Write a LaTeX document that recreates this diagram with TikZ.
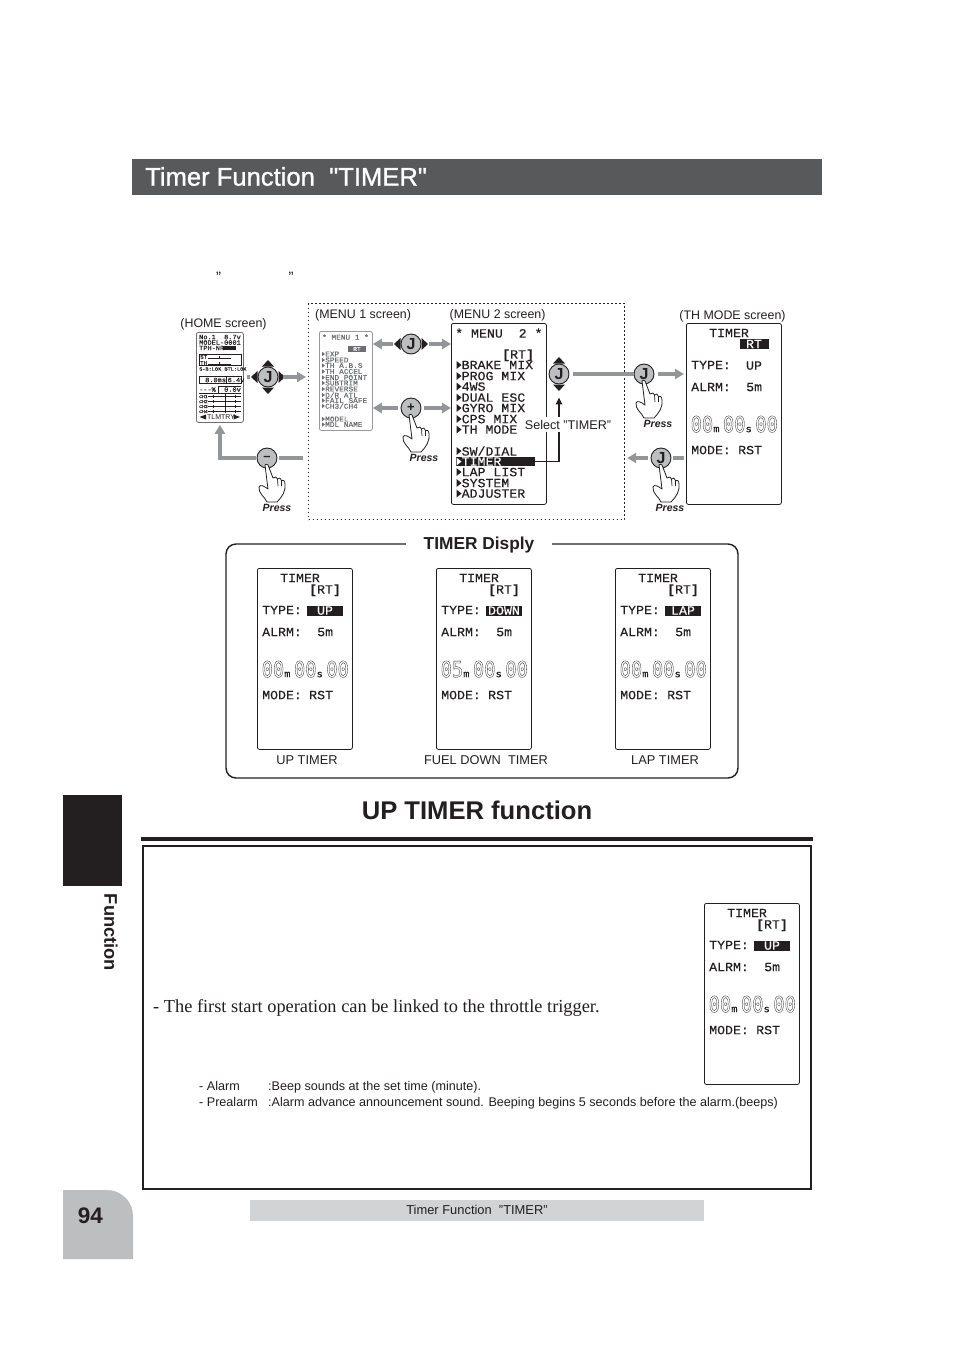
\documentclass[tikz,border=0pt]{standalone}
\usepackage{fontspec}
\usetikzlibrary{arrows.meta}
\setmainfont{Liberation Sans}
\newfontfamily\lcdfont[FakeBold=0.25,FakeStretch=1.05]{Liberation Mono}
\newfontfamily\lcdwide[FakeStretch=0.85]{DejaVu Sans Mono}
\newfontfamily\bodyserif{Liberation Serif}
\newfontfamily\titlefont[FakeBold=1]{Liberation Sans}
\definecolor{inkblack}{HTML}{231F20}
\definecolor{barblack}{HTML}{58595B}
\definecolor{arrowgrey}{HTML}{939598}
\definecolor{buttongrey}{HTML}{BCBEC0}
\definecolor{footgrey}{HTML}{D1D3D4}
\definecolor{lcdgrey}{HTML}{6D6E71}
\newcommand\fpx[1]{\fontsize{#1}{#1}\selectfont}
% outlined LCD digits
\newcommand\lcdout[1]{\special{pdf:code 1 Tr 0.3 w}#1\special{pdf:code 0 Tr}}
\newcommand\rtbrackets{\textbf{[}RT\textbf{]}}
\tikzset{
  screenbox/.style={draw=inkblack, line width=0.8pt, rounded corners=2pt, anchor=north west, inner sep=0pt, fill=white},
  lcdtext/.style={anchor=west, inner sep=0pt, text=inkblack, text depth=0pt, font=\lcdfont\fpx{12.6}},
  lcdtiny/.style={anchor=west, inner sep=0pt, text=lcdgrey, text depth=0pt, font=\lcdfont\fpx{7.4}},
  hometiny/.style={anchor=west, inner sep=0pt, text=inkblack, text depth=0pt, font=\lcdfont\fpx{6.6}},
  rtplain/.style={lcdtext, anchor=center},
  rtinv/.style={lcdtext, anchor=center, fill=inkblack, text=white, minimum width=29pt, minimum height=10pt},
  typeplain/.style={lcdtext, anchor=center},
  typeinv/.style={lcdtext, anchor=center, fill=inkblack, text=white, minimum width=36pt, minimum height=10pt},
  label/.style={inner sep=0pt, text=inkblack, font=\fpx{12.4}},
  press/.style={inner sep=0pt, text=inkblack, font=\bfseries\itshape\fpx{10.5}},
  button/.style={circle, draw=inkblack, line width=0.9pt, fill=buttongrey, minimum size=20pt, inner sep=0pt, text=inkblack, font=\bfseries\fpx{16}},
  greyarrow/.style={draw=arrowgrey, line width=3.3pt, -{Triangle[length=9pt,width=10pt]}},
  greyline/.style={draw=arrowgrey, line width=3.3pt},
  blackarrow/.style={draw=inkblack, line width=1.5pt, -{Triangle[length=7pt,width=6.5pt]}},
  jtri/.pic={\fill[inkblack] (10.5,-6) -- (17,0) -- (10.5,6) -- cycle;},
  hand/.pic={
    \draw[inkblack, fill=white, line width=0.8pt, line join=round]
      (-2,7) .. controls (-1,6) and (0.5,6) .. (1,7) -- (6,20)
      .. controls (8,18) and (10,19) .. (10.5,21)
      .. controls (12,19) and (14,20) .. (14.5,22.5)
      .. controls (16,21) and (18,23) .. (18,26)
      .. controls (19,33) and (15,39) .. (10,44) -- (0,44)
      .. controls (-2,39) and (-9,35) .. (-8,29)
      .. controls (-7,26) and (-3,28) .. (1,31) -- cycle;
    \draw[inkblack, line width=0.7pt] (10.5,21) -- (11,28) (14.5,22.5) -- (14.5,28);
  }
}
% one TIMER screen: name, x, y, RT style, RT text, type style, type text, first digits
\newcommand\timerscreen[8]{
  \begin{scope}[shift={(#2,#3)}]
    \node[screenbox, minimum width=95pt, minimum height=181pt] (#1) at (0,0) {};
    \node[lcdtext] (#1title) at (23,10) {TIMER};
    \node[#4] (#1rt) at (68,21) {#5};
    \node[lcdtext] (#1type) at (5,42) {TYPE:};
    \node[#6] (#1val) at (68,42.5) {#7};
    \node[lcdtext] (#1alrm) at (5,64) {ALRM:};
    \node[lcdtext] (#1five) at (60,64) {5m};
    \node[lcdtext, font=\lcdwide\fpx{22}] (#1time) at (4.5,101)
      {\lcdout{#8}{\lcdfont\fpx{10}m}\kern3.5pt\lcdout{00}{\lcdfont\fpx{10}s}\kern3.5pt\lcdout{00}};
    \node[lcdtext] (#1mode) at (5,127) {MODE:};
    \node[lcdtext] (#1rst) at (52,127) {RST};
  \end{scope}
}
\begin{document}
\begin{tikzpicture}[x=1pt, y=-1pt]
\useasboundingbox (0,0) rectangle (954,1350);
\fill[white] (0,0) rectangle (954,1350);
% title bar
\node[fill=barblack, minimum width=690pt, minimum height=36pt, anchor=north west, inner sep=0pt] (titlebar) at (132,159) {};
\node[anchor=west, inner sep=0pt, text=white, font=\titlefont\fpx{25.6}] (titletext) at (145,176.5) {Timer Function\ \ "TIMER"};
\node[inner sep=0pt, text=inkblack, font=\fpx{15}] (quoteleft) at (218.5,277) {"};
\node[inner sep=0pt, text=inkblack, font=\fpx{15}] (quoteright) at (291,277) {"};
% menu group
\node[draw=inkblack, line width=1.2pt, dash pattern=on 1.2pt off 2.8pt, minimum width=316pt, minimum height=216pt, anchor=north west, inner sep=0pt] (menubox) at (308,303) {};
\node[label] (homelabel) at (223.5,324) {(HOME screen)};
\node[label, anchor=west] (menuonelabel) at (315,315) {(MENU 1 screen)};
\node[label, anchor=west] (menutwolabel) at (449.5,315) {(MENU 2 screen)};
\node[label] (thlabel) at (732.5,316) {(TH MODE screen)};
% home screen
\node[screenbox, draw=lcdgrey, minimum width=47pt, minimum height=90pt] (homescr) at (196,332) {};
\node[hometiny] (homeno) at (199,337) {No.1\ \ 8.7v};
\node[hometiny] (homemodel) at (199,342.5) {MODEL-0001};
\node[hometiny] (hometph) at (199,348) {TPH-NR};
\node[fill=inkblack, minimum width=13pt, minimum height=4.5pt, inner sep=0pt] (homert) at (229,348) {};
\draw[inkblack, line width=0.5pt] (199,354) rectangle (241,365.5);
\node[hometiny, font=\lcdfont\fpx{5.5}] (homest) at (200,357) {ST};
\node[hometiny, font=\lcdfont\fpx{5.5}] (hometh) at (200,363) {TH};
\node[hometiny, font=\lcdfont\fpx{5}] (homesb) at (199,369) {S-B:LOK BTL:LOK};
\foreach \ypos in {358.5,364.5} {
  \draw[inkblack, line width=0.5pt] (208,\ypos) -- (231,\ypos);
  \draw[inkblack, line width=0.7pt] (219.5,\ypos-2.5) -- (219.5,\ypos);
}
\draw[inkblack, line width=0.6pt] (199,376.5) rectangle (241,383.5) (226,376.5) -- (226,383.5);
\draw[inkblack, line width=0.6pt] (199,393) -- (241,393) (218,386) -- (241,386) (218,386) -- (218,393);
\node[hometiny] (hometime) at (205,380) {8.0ms};
\node[hometiny] (homevolt) at (227.5,380) {6.4v};
\node[hometiny] (homepct) at (199,389.5) {---\%};
\node[hometiny] (homevolttwo) at (224,389.5) {0.0v};
\foreach \ypos/\chname in {396.5/CH1,401.5/CH2,406.5/CH3,411.5/CH4} {
  \node[hometiny, font=\lcdfont\fpx{4.5}] (home\chname) at (199,\ypos) {\chname};
  \draw[inkblack, line width=0.5pt] (208,\ypos) -- (241,\ypos) (213,\ypos-1.5) -- (213,\ypos+1.5) (235,\ypos-1.5) -- (235,\ypos+1.5);
}
\draw[inkblack, line width=0.9pt] (225,393) -- (225,413);
\node[hometiny, font=\fpx{7}] (hometlm) at (207,417) {TLMTRY};
\fill[inkblack] (199.5,417) -- (206,414.5) -- (206,419.5) -- cycle (240,417) -- (233.5,414.5) -- (233.5,419.5) -- cycle;
% menu 1 screen
\node[screenbox, draw=lcdgrey!70, minimum width=53pt, minimum height=99pt] (menuone) at (319,331) {};
\node[lcdtiny] (menuonetitle) at (322,337) {* MENU 1 *};
\node[fill=lcdgrey, text=white, minimum width=18pt, minimum height=5.5pt, inner sep=0pt, font=\lcdfont\fpx{6}] (menuonert) at (357,349) {RT};
\foreach \ypos/\entry in {354/EXP,360/SPEED,365.5/TH A.B.S,371.5/TH ACCEL,377.5/END POINT,383/SUBTRIM,389/REVERSE,395/D\slash R ATL,400.5/FAIL SAFE,406/CH3\slash CH4,419/MODEL,424.5/MDL NAME} {
  \fill[lcdgrey] (322,\ypos-2.2) -- (325,\ypos) -- (322,\ypos+2.2) -- cycle;
  \node[lcdtiny] at (325,\ypos) {\entry};
}
% menu 2 screen
\node[screenbox, minimum width=95pt, minimum height=181pt] (menutwo) at (451,323) {};
\node[lcdtext] (menutwotitle) at (455,333) {* MENU\ \ 2 *};
\node[lcdtext] (menutwort) at (502,354) {\rtbrackets};
\fill[inkblack] (456,456.5) rectangle (535,466);
\foreach \ypos/\entry/\tcol in {365/BRAKE MIX/inkblack,376/PROG MIX/inkblack,386.5/4WS/inkblack,397.5/DUAL ESC/inkblack,408/GYRO MIX/inkblack,419/CPS MIX/inkblack,429.5/TH MODE/inkblack,451/SW\slash DIAL/inkblack,461.5/TIMER/white,472/LAP LIST/inkblack,483/SYSTEM/inkblack,493.5/ADJUSTER/inkblack} {
  \fill[\tcol] (456.5,\ypos-4) -- (461.5,\ypos) -- (456.5,\ypos+4) -- cycle;
  \node[lcdtext, text=\tcol] at (461.5,\ypos) {\entry};
}
\coordinate (timerrow) at (535,461.5);
% th mode and timer screens
\timerscreen{thmode}{686}{323}{rtinv}{RT}{typeplain}{UP}{00}
\timerscreen{uptimer}{257}{568}{rtplain}{\rtbrackets}{typeinv}{UP}{00}
\timerscreen{downtimer}{436}{568}{rtplain}{\rtbrackets}{typeinv}{DOWN}{05}
\timerscreen{laptimer}{615}{568}{rtplain}{\rtbrackets}{typeinv}{LAP}{00}
\timerscreen{upinfo}{704}{903}{rtplain}{\rtbrackets}{typeinv}{UP}{00}
% buttons
\node[button] (jhome) at (268,377) {J};
\node[button] (jmenuone) at (411,344) {J};
\node[button, font=\bfseries\fpx{13}] (plusbtn) at (411,408) {+};
\node[button, font=\bfseries\fpx{13}] (minusbtn) at (267,458) {--};
\node[button] (jmenutwo) at (559,374) {J};
\node[button] (jenter) at (644,374) {J};
\node[button] (jback) at (661,458) {J};
\foreach \a in {0,90,180,270} { \pic[rotate=\a] at (jhome) {jtri}; }
\foreach \a in {0,180} { \pic[rotate=\a] at (jmenuone) {jtri}; }
\foreach \a in {90,270} { \pic[rotate=\a] at (jmenutwo) {jtri}; }
% grey connectors
\draw[greyline, shorten <=3pt, shorten >=18pt] (homescr.east |- jhome) -- (jhome.center);
\draw[greyarrow, shorten <=5pt, shorten >=2pt] (jhome.east) -- (jhome -| menubox.west);
\draw[greyarrow, shorten <=8pt] (jmenuone.west) -- (jmenuone -| menuone.east);
\draw[greyarrow, shorten <=8pt] (jmenuone.east) -- (jmenuone -| menutwo.west);
\draw[greyarrow, shorten <=3pt] (plusbtn.west) -- (plusbtn -| menuone.east);
\draw[greyarrow, shorten <=3pt] (plusbtn.east) -- (plusbtn -| menutwo.west);
\draw[greyline, shorten <=2pt, shorten >=5pt] (minusbtn.east) -- (minusbtn -| menubox.west);
\draw[greyarrow, shorten <=1pt, shorten >=2pt] (minusbtn.west) -| (homescr.south);
\draw[greyline, shorten <=4pt] (jmenutwo.east) -- (jenter.west);
\draw[greyarrow, shorten <=4pt, shorten >=2pt] (jenter.east) -- (jenter -| thmode.west);
\draw[greyline, shorten <=2pt, shorten >=2pt] (jback -| thmode.west) -- (jback.east);
\draw[greyarrow, shorten <=3pt, shorten >=2pt] (jback.west) -- (jback -| menubox.east);
\draw[blackarrow, shorten >=13pt] (timerrow) -| (jmenutwo.south);
\node[label, fill=white, inner xsep=1pt, inner ysep=2.5pt, font=\fpx{12.6}] (selectlabel) at (568,424.5) {Select "TIMER"};
% hands
\pic at (plusbtn) {hand};
\pic at (minusbtn) {hand};
\pic at (jenter) {hand};
\pic at (jback) {hand};
\node[press] (pressplus) at (424,457.5) {Press};
\node[press] (pressminus) at (277,507.5) {Press};
\node[press] (pressenter) at (658,423.5) {Press};
\node[press] (pressback) at (670,507.5) {Press};
% timer display frame
\draw[inkblack, line width=1.4pt, rounded corners=10pt] (226,544) rectangle (738,778);
\node[fill=white, inner sep=0pt, minimum width=146pt, minimum height=20pt, text=inkblack, font=\bfseries\fpx{17.3}] (displaytitle) at (479,545) {TIMER Disply};
\node[label, font=\fpx{12.8}] (uplabel) at (307,760) {UP TIMER};
\node[label, font=\fpx{12.8}] (downlabel) at (486,760) {FUEL DOWN\ \ TIMER};
\node[label, font=\fpx{12.8}] (laplabel) at (665,760) {LAP TIMER};
% up timer section
\node[inner sep=0pt, text=inkblack, font=\bfseries\fpx{25.6}] (sectiontitle) at (477,810) {UP TIMER function};
\fill[inkblack] (141,837) rectangle (813,841);
\draw[inkblack, line width=2pt] (143,846) rectangle (811,1189);
\node[anchor=west, inner sep=0pt, text=inkblack, font=\bodyserif\fpx{18.35}] (firststart) at (153,1008.5) {- The first start operation can be linked to the throttle trigger.};
\node[label, anchor=base west, font=\fpx{12.6}] (alarmname) at (199,1090) {- Alarm};
\node[label, anchor=base west, font=\fpx{12.6}] (alarmtext) at (268,1090) {:Beep sounds at the set time (minute).};
\node[label, anchor=base west, font=\fpx{12.6}] (prename) at (199,1106) {- Prealarm};
\node[label, anchor=base west, font=\fpx{12.6}] (pretext) at (268,1106) {:Alarm advance announcement sound. Beeping begins 5 seconds before the alarm.(beeps)};
% side tabs and footer
\fill[inkblack] (63,795) rectangle (122,886);
\node[rotate=-90, inner sep=0pt, text=inkblack, font=\bfseries\fpx{18.3}] (sidelabel) at (111,932.5) {Function};
\fill[buttongrey] (63,1190) [rounded corners=26pt] -- (133,1190) [sharp corners] -- (133,1259) -- (63,1259) -- cycle;
\node[inner sep=0pt, text=inkblack, font=\bfseries\fpx{22.5}] (pagenum) at (90.5,1216) {94};
\node[fill=footgrey, minimum width=454pt, minimum height=21pt, inner sep=0pt, text=inkblack, font=\fpx{12.9}] (footer) at (477,1210) {Timer Function\ \ "TIMER"};
\end{tikzpicture}
\end{document}
